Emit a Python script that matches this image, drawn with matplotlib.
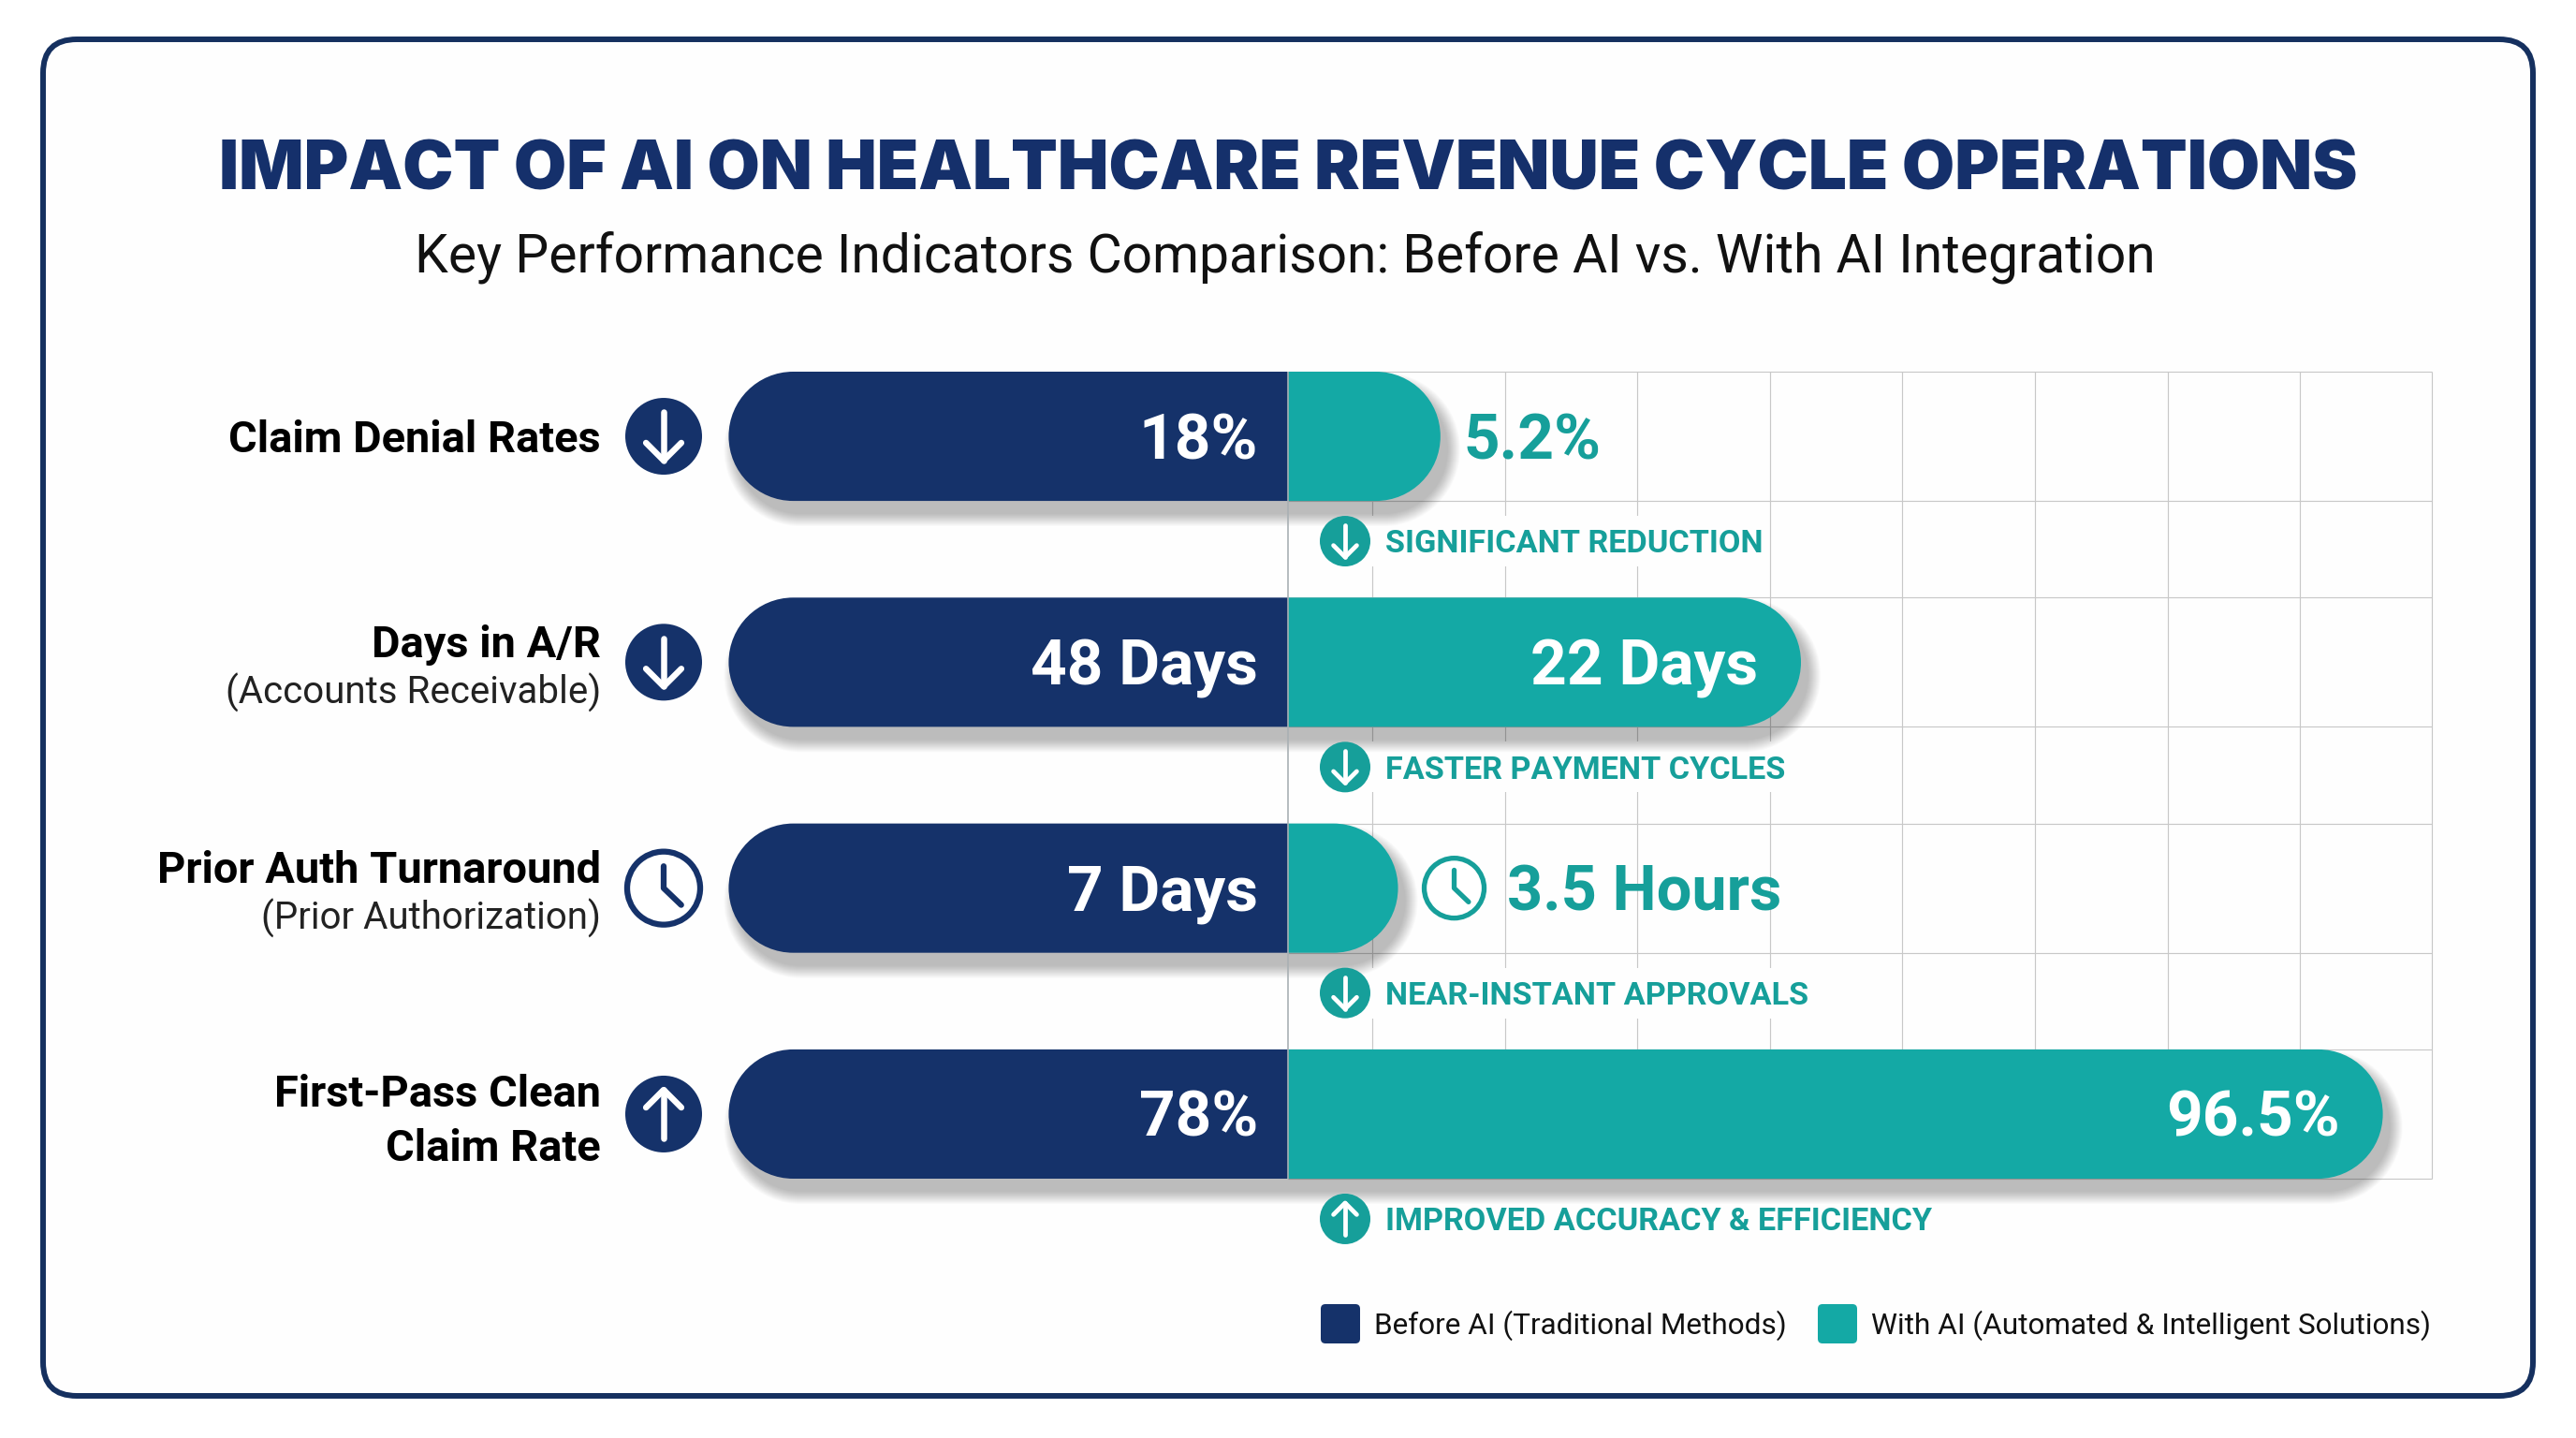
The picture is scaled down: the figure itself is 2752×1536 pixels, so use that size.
"""Revenue cycle KPI comparison: before AI vs. with AI."""
import matplotlib
matplotlib.use("Agg")
import matplotlib.pyplot as plt
from matplotlib.patches import Circle, FancyBboxPatch, PathPatch, Rectangle
from matplotlib.path import Path
import numpy as np

W, H = 2752, 1536

TITLE = "IMPACT OF AI ON HEALTHCARE REVENUE CYCLE OPERATIONS"
SUBTITLE = "Key Performance Indicators Comparison: Before AI vs. With AI Integration"

metrics = ["Claim Denial Rates", "Days in A/R", "Prior Auth Turnaround", "First-Pass Clean"]
metric_subs = ["", "(Accounts Receivable)", "(Prior Authorization)", "Claim Rate"]
before_labels = ["18%", "48 Days", "7 Days", "78%"]
after_labels = ["5.2%", "22 Days", "3.5 Hours", "96.5%"]
# bar reach measured in grid cells either side of the divider (not to scale with the labels)
before_reach = [4.22, 4.22, 4.22, 4.22]
after_reach = [1.15, 3.87, 0.83, 8.26]
row_icons = ["down", "down", "clock", "up"]
notes = ["SIGNIFICANT REDUCTION", "FASTER PAYMENT CYCLES", "NEAR-INSTANT APPROVALS",
         "IMPROVED ACCURACY & EFFICIENCY"]
note_icons = ["down", "down", "down", "up"]
legend_labels = ["Before AI (Traditional Methods)", "With AI (Automated & Intelligent Solutions)"]

NAVY = "#15326A"
TEAL = "#14A9A5"
TEAL_TEXT = "#169F9A"
GRID = "#c8c8c8"
PAPER = "#FEFEFE"
FONT = "Roboto"
CAP = 0.711  # Roboto cap height / em


def pill(x0, x1, yc, h, rx, round_left, round_right):
    """Bar outline in data units, optionally with rounded ends."""
    k = 0.5523
    ry = h / 2
    top, bot = yc - ry, yc + ry
    v, c = [], []
    if round_left:
        v += [(x0 + rx, top)]
    else:
        v += [(x0, top)]
    c += [Path.MOVETO]
    if round_right:
        v += [(x1 - rx, top), (x1 - rx + k * rx, top), (x1, yc - k * ry), (x1, yc),
              (x1, yc + k * ry), (x1 - rx + k * rx, bot), (x1 - rx, bot)]
        c += [Path.LINETO] + [Path.CURVE4] * 6
    else:
        v += [(x1, top), (x1, bot)]
        c += [Path.LINETO] * 2
    if round_left:
        v += [(x0 + rx, bot), (x0 + rx - k * rx, bot), (x0, yc + k * ry), (x0, yc),
              (x0, yc - k * ry), (x0 + rx - k * rx, top), (x0 + rx, top)]
        c += [Path.LINETO] + [Path.CURVE4] * 6
    else:
        v += [(x0, bot), (x0, top)]
        c += [Path.LINETO] * 2
    return Path(v, c)


def put(x, yc, s, cap, color="black", weight="normal", ha="left", **kw):
    """Text placed by the vertical centre of its capitals, sizes in image pixels."""
    px = cap / CAP
    return top.text(x, yc + cap / 2, s, fontsize=px * 0.72, color=color, fontweight=weight,
                    ha=ha, va="baseline", family=kw.pop("family", FONT), **kw)


def arrow_icon(cx, cy, r, kind, color):
    top.add_patch(Circle((cx, cy), r, fc=color, ec="none", zorder=3))
    s = -1 if kind == "up" else 1
    lw = r * 0.125 * 0.72 + 1.0
    h = r * 0.63
    top.plot([cx, cx], [cy - s * h, cy + s * h], color="white", lw=lw, solid_capstyle="round", zorder=4)
    top.plot([cx - r * 0.46, cx, cx + r * 0.46], [cy + s * (h - r * 0.46), cy + s * h, cy + s * (h - r * 0.46)],
             color="white", lw=lw, solid_capstyle="round", solid_joinstyle="round", zorder=4)


def clock_icon(cx, cy, r, color):
    lw = r * 0.14 * 0.72 + 0.6
    top.add_patch(Circle((cx, cy), r, fc="white", ec=color, lw=lw, zorder=3))
    top.plot([cx, cx, cx + r * 0.48], [cy - r * 0.6, cy, cy + r * 0.46], color=color, lw=lw,
             solid_capstyle="round", solid_joinstyle="round", zorder=4)


fig = plt.figure(figsize=(W / 100, H / 100), dpi=100, facecolor="white")

# frame behind everything
back = fig.add_axes([0, 0, 1, 1], zorder=0)
back.set_xlim(0, W)
back.set_ylim(H, 0)
back.axis("off")
back.add_patch(FancyBboxPatch((46, 42), 2660, 1449, boxstyle="round,pad=0,rounding_size=36",
                              fc=PAPER, ec="#15305F", lw=4.3))

# chart area: x in grid cells with the divider at 0, y in rows
L, R, T, B = 777, 2598, 397, 1259
ax = fig.add_axes([L / W, 1 - B / H, (R - L) / W, (B - T) / H], zorder=1)
ax.patch.set_alpha(0)
ax.axis("off")
cell = 141.6
row_step = 241.2
bar_h = 138 / row_step
ax.set_xlim(-(1376 - L) / cell, (R - 1376) / cell)
ax.set_ylim(3 + bar_h / 2, -bar_h / 2)
xmax = ax.get_xlim()[1]
y = np.arange(len(metrics))

for gx in 0.636 + np.arange(8):
    ax.vlines(gx, y[0] - bar_h / 2, y[-1] + bar_h / 2, color=GRID, lw=0.85, zorder=1)
ax.vlines(xmax, y[0] - bar_h / 2, y[-1] + bar_h / 2, color=GRID, lw=0.85, zorder=1, clip_on=False)
for yi in y:
    ax.hlines([yi - bar_h / 2, yi + bar_h / 2], 0, xmax, color=GRID, lw=0.85, zorder=1, clip_on=False)

rx = 69 / cell
px_y = row_step  # pixels per row
for i in y:
    # soft shadow from stacked translucent outlines, falls down and to the right
    for e in range(13, -1, -1):
        ex, ey = e / cell, e / px_y
        p = pill(-before_reach[i] - ex + 8 / cell, after_reach[i] + ex + 8 / cell, i + 14 / px_y,
                 bar_h + 2 * ey, rx + ex, True, True)
        ax.add_patch(PathPatch(p, fc="black", ec="none", alpha=0.02, zorder=2, clip_on=False))
    ax.add_patch(PathPatch(pill(-before_reach[i], 0, i, bar_h, rx, True, False), fc=NAVY, ec="none", zorder=3))
    ax.add_patch(PathPatch(pill(0, after_reach[i], i, bar_h, rx, False, True), fc=TEAL, ec="none", zorder=3))
ax.vlines(0, y[0] - bar_h / 2, y[-1] + bar_h / 2, color="#a9b0b4", lw=1.2, zorder=4)

# text and icons on top, in image pixels
top = fig.add_axes([0, 0, 1, 1], zorder=2)
top.patch.set_alpha(0)
top.set_xlim(0, W)
top.set_ylim(H, 0)
top.axis("off")

put(1376, 177, TITLE, 51.7, color="#15306B", weight="black", ha="center", family="Inter")
put(1373, 270, SUBTITLE, 40.5, color="#111111", ha="center")


def to_px(xv, yv):
    px, py = ax.transData.transform((xv, yv))
    return px, H - py


renderer = fig.canvas.get_renderer()
right_text = 642
for i in y:
    x0, yc = to_px(0, i)
    xe, _ = to_px(after_reach[i], i)
    if row_icons[i] == "clock":
        clock_icon(709, yc, 39, NAVY)
    else:
        arrow_icon(709, yc, 41, row_icons[i], NAVY)

    if metric_subs[i] == "":
        put(right_text, yc, metrics[i], 33.4, weight="bold", ha="right")
    elif metric_subs[i].startswith("("):
        put(right_text, yc - 22, metrics[i], 33.4, weight="bold", ha="right")
        put(right_text, yc + 30, metric_subs[i], 28.6, color="#222222", ha="right")
    else:
        put(right_text, yc - 25, metrics[i], 33.4, weight="bold", ha="right")
        put(right_text, yc + 33, metric_subs[i], 33.4, weight="bold", ha="right")

    put(x0 - 32, yc, before_labels[i], 48, color="white", weight="bold", ha="right")
    if i == 0:
        put(xe + 25, yc, after_labels[i], 48, color=TEAL_TEXT, weight="bold")
    elif i == 2:
        clock_icon(xe + 60, yc, 32, TEAL_TEXT)
        put(xe + 116, yc, after_labels[i], 47.5, color=TEAL_TEXT, weight="bold")
    else:
        put(xe - 46, yc, after_labels[i], 48, color="white", weight="bold", ha="right")

    # note under the bar; a paper-coloured box between grid and shadow hides the grid behind it
    ny = yc + 112
    arrow_icon(1437, ny, 27, note_icons[i], TEAL_TEXT)
    t = put(1480, ny, notes[i], 24.4, color=TEAL_TEXT, weight="bold")
    x1 = t.get_window_extent(renderer).x1
    ax.add_patch(Rectangle((1412, ny - 27), x1 + 4 - 1412, 54, fc=PAPER, ec="none", zorder=1.5,
                           transform=top.transData, clip_on=False))

# legend row
for sx, tx, c, lab in zip([1411, 1942], [1468, 1999], [NAVY, TEAL], legend_labels):
    top.add_patch(FancyBboxPatch((sx, 1393), 42, 42, boxstyle="round,pad=0,rounding_size=5", fc=c, ec="none"))
    put(tx, 1414, lab, 22.4, color="#111111")

fig.savefig("out.png", dpi=100)
